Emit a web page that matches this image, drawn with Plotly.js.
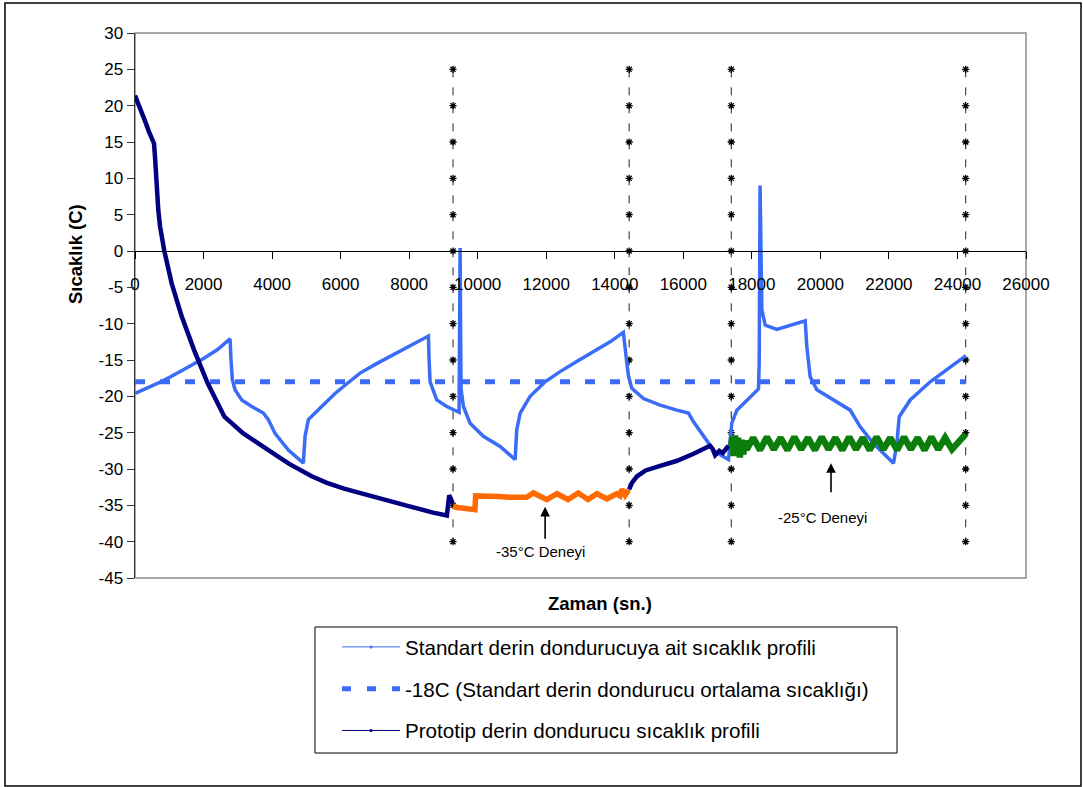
<!DOCTYPE html>
<html>
<head>
<meta charset="utf-8">
<script src="https://cdn.plot.ly/plotly-3.0.1.min.js"></script>
<style>
html,body{margin:0;padding:0;background:#fff;}
#chart{width:1083px;height:787px;}
</style>
</head>
<body>
<div id="chart"></div>
<script>
// ---- Data ----
const stdTime = [0,400,800,1200,1600,2000,2400,2773,2802,2841,2919,3113,3405,3745,3891,4086,4475,4913,4962,5060,5254,5643,5838,6200,6567,7050,7540,8050,8562,8582,8611,8805,9097,9457,9472,9487,9500,9515,9583,9778,10167,10654,11092,11110,11140,11240,11530,11967,12405,12890,13380,13865,14250,14303,14352,14400,14497,14837,15324,15811,16150,16297,16589,16881,17100,17320,17368,17415,17562,17854,18194,18215,18240,18292,18390,18730,19119,19557,19605,19702,19897,20383,20870,21162,21551,22134,22232,22300,22621,23205,23789,24247];
const stdTemp = [-19.6,-18.8,-17.9,-16.9,-15.9,-14.8,-13.6,-12.1,-15.0,-17.7,-19.1,-20.5,-21.4,-22.3,-23.2,-25.1,-27.4,-29.2,-25.5,-23.2,-22.3,-20.5,-19.6,-18.2,-16.8,-15.5,-14.3,-13.0,-11.7,-15.0,-18.0,-20.5,-21.4,-22.2,-10.0,0.4,-10.0,-19.0,-21.4,-23.7,-25.5,-26.9,-28.7,-26.8,-24.6,-22.3,-20.0,-18.0,-16.6,-15.2,-13.9,-12.5,-11.2,-14.0,-15.4,-17.2,-18.9,-20.3,-21.2,-21.9,-22.3,-23.5,-25.5,-27.4,-28.1,-28.7,-26.0,-23.7,-21.9,-20.5,-19.0,-15.4,9.0,-8.1,-10.2,-10.8,-10.2,-9.6,-13.2,-17.3,-19.1,-20.5,-21.9,-24.2,-26.5,-29.2,-26.5,-22.8,-20.5,-18.0,-15.9,-14.4];

const protoTime = [0,100,200,300,400,555,590,633,680,730,790,856,1070,1362,1722,2121,2608,3160,3892,4500,5157,5600,6100,6770,7300,7900,8700,9100,9170,9270,null,14420,14500,14650,14900,15300,15800,16300,16780,16850,16930,17050,17150,17320];
const protoTemp = [21.4,20.3,19.1,17.8,16.5,14.8,12.5,8.6,5.6,3.4,1.6,0.0,-4.45,-9.0,-13.6,-18.2,-22.8,-25.1,-27.4,-29.3,-31.0,-31.9,-32.7,-33.6,-34.3,-35.0,-36.0,-36.4,-33.6,-34.7,null,-32.8,-31.9,-31.0,-30.2,-29.6,-28.9,-27.9,-26.8,-27.2,-28.1,-27.5,-27.8,-26.8];

const test35Time = [9280,9400,9600,9800,9920,9940,10200,10600,11000,11430,11626,12017,12309,12639,12931,13223,13477,13768,14060,14150,14206,14303,14400];
const test35Temp = [-35.1,-35.3,-35.4,-35.5,-35.6,-33.7,-33.7,-33.8,-33.9,-33.9,-33.3,-34.2,-33.4,-34.2,-33.3,-34.2,-33.4,-34.1,-33.4,-33.7,-32.8,-33.6,-32.9];

const test25Time = [17400,17430,17470,17510,17560,17600,17650,17700,17750,17800,17850,18040,18240,18440,18640,18840,19040,19240,19440,19640,19840,20040,20240,20440,20640,20840,21040,21240,21440,21640,21840,22040,22240,22440,22640,22840,23040,23240,23440,23640,23840,24000,24100,24240];
const test25Temp = [-26.8,-25.6,-28.2,-25.4,-27.6,-25.7,-28.4,-26.0,-28.0,-26.1,-27.3,-25.7,-27.4,-25.6,-27.3,-25.7,-27.4,-25.6,-27.3,-25.7,-27.4,-25.6,-27.3,-25.7,-27.4,-25.6,-27.3,-25.7,-27.4,-25.6,-27.3,-25.7,-27.4,-25.6,-27.3,-25.7,-27.4,-25.6,-27.3,-25.7,-27.3,-26.4,-26.0,-25.2];

const refTime = [0, 24240];
const refTemp = [-18, -18];

const markerTimes = [9280, 14420, 17400, 24240];
const markerTemps = [25,20,15,10,5,0,-5,-10,-15,-20,-25,-30,-35,-40];

const xTickVals = [0,2000,4000,6000,8000,10000,12000,14000,16000,18000,20000,22000,24000,26000];
const yTickVals = [30,25,20,15,10,5,0,-5,-10,-15,-20,-25,-30,-35,-40,-45];

const seriesNames = [
  "Standart derin dondurucuya ait sıcaklık profili",
  "-18C (Standart derin dondurucu ortalama sıcaklığı)",
  "Prototip derin dondurucu sıcaklık profili"
];

// ---- Styles ----
const FONT = "Arial, 'Liberation Sans', sans-serif";
const cStd = "#3A6CF8";
const cProto = "#000080";
const cOrange = "#FF6A00";
const cGreen = "#0B7D0B";

const traces = [];
markerTimes.forEach(t => {
  traces.push({
    x: markerTemps.map(() => t), y: markerTemps,
    mode: "lines+markers", type: "scatter", showlegend: false, hoverinfo: "skip",
    line: {color: "#222", width: 1, dash: "8px,10px"},
    marker: {symbol: "asterisk-open", size: 6, line: {color: "#000", width: 1.3}, color: "#000"}
  });
});
traces.push({x: refTime, y: refTemp, mode: "lines", showlegend: false,
  line: {color: cStd, width: 5, dash: "10px,15px"}});
traces.push({x: stdTime, y: stdTemp, mode: "lines", showlegend: false,
  line: {color: cStd, width: 3.5}});
traces.push({x: protoTime, y: protoTemp, mode: "lines", showlegend: false, connectgaps: false,
  line: {color: cProto, width: 4.5}});
traces.push({x: test35Time, y: test35Temp, mode: "lines", showlegend: false,
  line: {color: cOrange, width: 5.5}});
traces.push({x: test25Time, y: test25Temp, mode: "lines", showlegend: false,
  line: {color: cGreen, width: 6.5}});
// legend entries
traces.push({x: [null], y: [null], mode: "lines+markers", name: seriesNames[0], legendgroup: "a",
  line: {color: cStd, width: 1}, marker: {color: cStd, size: 3}});
traces.push({x: [null], y: [null], mode: "lines", name: seriesNames[1], legendgroup: "b",
  line: {color: cStd, width: 5, dash: "9px,16px"}});
traces.push({x: [null], y: [null], mode: "lines+markers", name: seriesNames[2], legendgroup: "c",
  line: {color: cProto, width: 1}, marker: {color: cProto, size: 3}});

const L = 135, R = 57, T = 33, B = 209;
const PW = 1083 - L - R, PH = 787 - T - B;
const px = v => (v - L) / PW;
const py = v => (787 - B - v) / PH;

const layout = {
  width: 1083, height: 787,
  margin: {l: L, r: R, t: T, b: B, pad: 0},
  paper_bgcolor: "#fff", plot_bgcolor: "#fff",
  font: {family: FONT, color: "#000", size: 17},
  showlegend: true,
  xaxis: {
    range: [0, 26000], tickvals: xTickVals, ticktext: xTickVals.map(String),
    anchor: "free", position: 0.6,
    showline: true, linecolor: "#000", linewidth: 1,
    ticks: "outside", ticklen: 7, tickcolor: "#000", tickwidth: 1,
    ticklabelstandoff: 11,
    showgrid: false, zeroline: false,
    tickfont: {family: FONT, size: 17, color: "#000"}
  },
  yaxis: {
    range: [-45, 30], tickvals: yTickVals, ticktext: yTickVals.map(String),
    showline: true, linecolor: "#333", linewidth: 1.5,
    ticks: "outside", ticklen: 7, tickcolor: "#333", tickwidth: 1,
    showgrid: false, zeroline: false,
    tickfont: {family: FONT, size: 17, color: "#000"}
  },
  legend: {
    x: px(315), y: py(627), xanchor: "left", yanchor: "top",
    borderwidth: 0, bgcolor: "rgba(0,0,0,0)",
    font: {family: FONT, size: 20.6, color: "#000"},
    traceorder: "grouped", tracegroupgap: 12, itemwidth: 58,
    indentation: 22
  },
  shapes: [
    {type: "rect", xref: "paper", yref: "paper", x0: 0, x1: 1, y0: 0, y1: 1,
     line: {color: "#8c8c8c", width: 1.5}, layer: "below"},
    {type: "rect", xref: "paper", yref: "paper", x0: px(5), x1: px(1081), y0: py(786), y1: py(3),
     line: {color: "#000", width: 1.5}, layer: "below"},
    {type: "rect", xref: "paper", yref: "paper", x0: px(315), x1: px(897), y0: py(753), y1: py(627),
     line: {color: "#000", width: 1}, layer: "below"}
  ],
  annotations: [
    {x: 11967, y: -35.2, ax: 11967, ay: -39.8, xref: "x", yref: "y", axref: "x", ayref: "y",
     text: "", showarrow: true, arrowhead: 2, arrowsize: 1.2, arrowwidth: 1.6, arrowcolor: "#000"},
    {x: 11842, y: -41.4, xref: "x", yref: "y", text: "-35°C Deneyi", showarrow: false,
     font: {family: FONT, size: 15, color: "#000"}},
    {x: 20310, y: -29.2, ax: 20310, ay: -33.4, xref: "x", yref: "y", axref: "x", ayref: "y",
     text: "", showarrow: true, arrowhead: 2, arrowsize: 1.2, arrowwidth: 1.6, arrowcolor: "#000"},
    {x: 20050, y: -36.7, xref: "x", yref: "y", text: "-25°C Deneyi", showarrow: false,
     font: {family: FONT, size: 15, color: "#000"}},
    {x: px(76), y: py(254), xref: "paper", yref: "paper", xanchor: "center", yanchor: "middle",
     text: "<b>Sıcaklık (C)</b>", textangle: -90,
     showarrow: false, font: {family: FONT, size: 18.5, color: "#000"}},
    {x: px(600), y: py(604), xref: "paper", yref: "paper", xanchor: "center", yanchor: "middle",
     text: "<b>Zaman (sn.)</b>",
     showarrow: false, font: {family: FONT, size: 18.5, color: "#000"}}
  ]
};

Plotly.newPlot("chart", traces, layout, {displayModeBar: false, staticPlot: true});
</script>
</body>
</html>
